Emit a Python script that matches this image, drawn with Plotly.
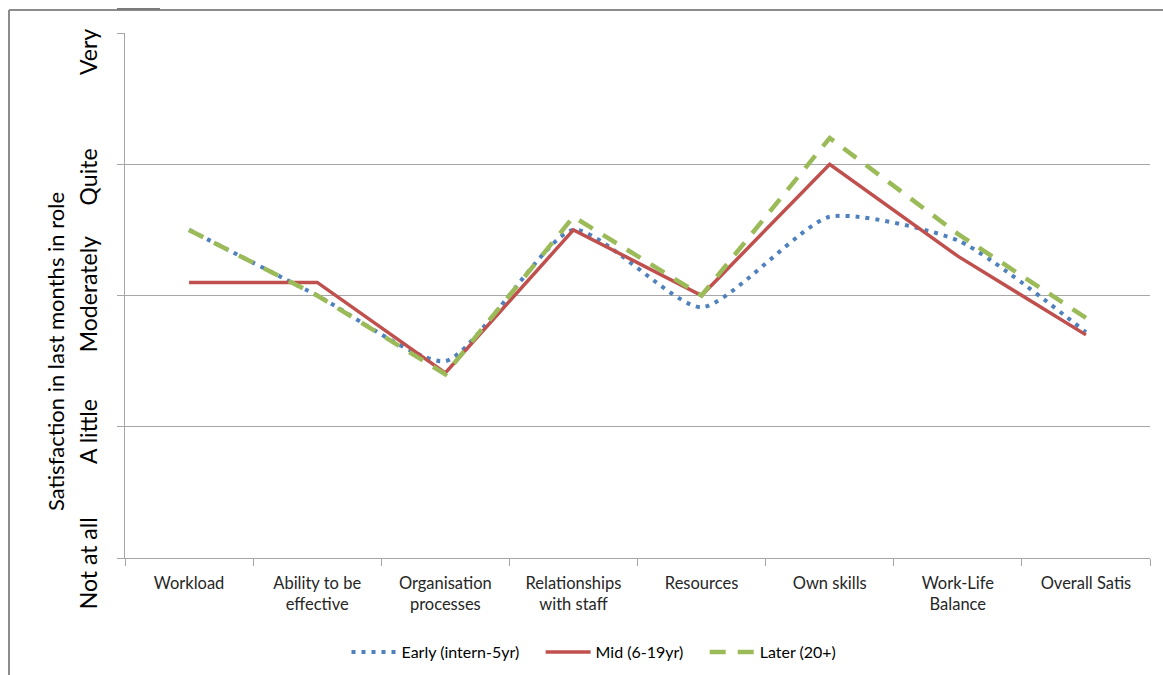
import plotly.graph_objects as go

categories = ["Workload", "Ability to be<br>effective", "Organisation<br>processes",
              "Relationships<br>with staff", "Resources", "Own skills",
              "Work-Life<br>Balance", "Overall Satis"]
early = [2.5, 2.0, 1.5, 2.5, 1.91, 2.6, 2.42, 1.72]
mid = [2.1, 2.1, 1.41, 2.5, 2.0, 3.0, 2.3, 1.7]
later = [2.5, 2.0, 1.4, 2.6, 2.0, 3.2, 2.47, 1.83]
level_labels = ["Not at all", "A little", "Moderately", "Quite", "Very"]
level_values = [0, 1, 2, 3, 4]
# vertical centre of each rotated level label (data units)
level_label_pos = [-0.04, 0.96, 2.01, 2.9, 3.855]

FONT = "Lato, Open Sans, sans-serif"
GRID = "#a6a6a6"
PAD = "\u00a0" * 4  # extra room between legend entries

fig = go.Figure()
fig.add_trace(go.Scatter(x=categories, y=early, name="Early (intern-5yr)" + PAD, mode="lines",
                         line=dict(color="#4F81BD", width=4, dash="4px,6px",
                                   shape="spline", smoothing=0.6)))
fig.add_trace(go.Scatter(x=categories, y=mid, name="Mid (6-19yr)" + PAD, mode="lines",
                         line=dict(color="#C0504D", width=3.5)))
fig.add_trace(go.Scatter(x=categories, y=later, name="Later (20+)", mode="lines",
                         line=dict(color="#9BBB59", width=4.5, dash="16px,12px")))

L, R, T, B = 125, 13, 33, 117
W, H = 1163, 675
pw, ph = W - L - R, H - T - B
Y0, Y1 = 0, 4


def px(x):
    return (x - L) / pw


def py(y):
    return (H - B - y) / ph


def val_to_paper(v):
    return (v - Y0) / (Y1 - Y0)


annotations = []
for lab, pos in zip(level_labels, level_label_pos):
    annotations.append(dict(x=px(88), xref="paper", y=val_to_paper(pos), yref="paper",
                            xanchor="center", yanchor="middle",
                            text=lab, textangle=-90, showarrow=False,
                            font=dict(family=FONT, size=23, color="#000000")))
annotations.append(dict(x=px(55), xref="paper", y=py(352), yref="paper",
                        xanchor="center", yanchor="middle",
                        text="Satisfaction in last months in role", textangle=-90,
                        showarrow=False, font=dict(family=FONT, size=22, color="#000000")))

shapes = [
    dict(type="line", xref="paper", yref="paper", x0=px(9), x1=px(9), y0=py(10), y1=py(676),
         line=dict(color="#8c8c8c", width=2)),
    dict(type="line", xref="paper", yref="paper", x0=px(9), x1=px(1163), y0=py(10), y1=py(10),
         line=dict(color="#8c8c8c", width=2)),
    dict(type="line", xref="paper", yref="paper", x0=px(117), x1=px(160), y0=py(9), y1=py(9),
         line=dict(color="#7a7a7a", width=2)),
]

fig.update_layout(
    width=W, height=H,
    margin=dict(l=L, r=R, t=T, b=B, autoexpand=False),
    paper_bgcolor="white", plot_bgcolor="white",
    font=dict(family=FONT, size=16, color="#262626"),
    showlegend=True,
    legend=dict(orientation="h", x=594 / W, xref="container", xanchor="center",
                y=(H - 652) / H, yref="container", yanchor="middle",
                font=dict(family=FONT, size=16, color="#000000"), itemwidth=45,
                tracegroupgap=0),
    xaxis=dict(type="category", range=[-0.5, len(categories) - 0.5],
               showgrid=False, showline=True, linecolor=GRID, linewidth=1,
               ticks="outside", tickson="boundaries", ticklen=7, tickcolor=GRID,
               ticklabelstandoff=10, automargin=False,
               tickfont=dict(family=FONT, size=16.5, color="#262626"), fixedrange=True),
    yaxis=dict(range=[Y0, Y1], tickvals=level_values, showticklabels=False,
               showgrid=True, gridcolor=GRID, gridwidth=1, zeroline=False,
               showline=True, linecolor=GRID, linewidth=1, automargin=False,
               ticks="outside", ticklen=7, tickcolor=GRID, fixedrange=True),
    annotations=annotations,
    shapes=shapes,
)

fig.write_html("out.html")
